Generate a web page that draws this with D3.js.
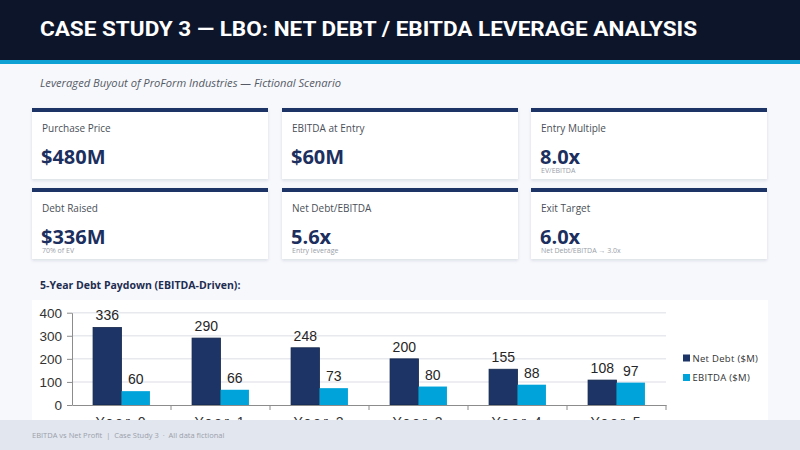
<!DOCTYPE html>
<html>
<head>
<meta charset="utf-8">
<script src="https://cdn.jsdelivr.net/npm/d3@7"></script>
<style>
  html, body { margin: 0; padding: 0; background: #f7f8fc; }
  svg { display: block; }
</style>
</head>
<body>
<div id="chart"></div>
<script>
// ---- data ----
var categories = [ "Year 0", "Year 1", "Year 2", "Year 3", "Year 4", "Year 5" ];
var netDebt = [ 336, 290, 248, 200, 155, 108 ];
var ebitda = [ 60, 66, 73, 80, 88, 97 ];
var seriesNames = [ "Net Debt ($M)", "EBITDA ($M)" ];
var yTicks = [ 0, 100, 200, 300, 400 ];

var cardLabels = [ "Purchase Price", "EBITDA at Entry", "Entry Multiple", "Debt Raised", "Net Debt/EBITDA", "Exit Target" ];
var cardValues = [ "$480M", "$60M", "8.0x", "$336M", "5.6x", "6.0x" ];
var cardNotes = [ "", "", "EV/EBITDA", "70% of EV", "Entry leverage", "Net Debt/EBITDA \u2192 3.0x" ];

var width = 800, height = 450;
var navy = "#1c3466", cyan = "#00a3da";

var svg = d3.select( "#chart" ).append( "svg" )
	.attr( "width", width )
	.attr( "height", height )
	.attr( "viewBox", [ 0, 0, width, height ] );

var defs = svg.append( "defs" );
var shadow = defs.append( "filter" ).attr( "id", "shadow" )
	.attr( "x", "-5%" ).attr( "y", "-5%" ).attr( "width", "110%" ).attr( "height", "120%" );
shadow.append( "feDropShadow" )
	.attr( "dx", 0 ).attr( "dy", 1.5 ).attr( "stdDeviation", 1.5 )
	.attr( "flood-color", "#1c2a4a" ).attr( "flood-opacity", 0.13 );

svg.append( "rect" ).attr( "width", width ).attr( "height", height ).attr( "fill", "#f7f8fc" );

// header
svg.append( "rect" ).attr( "width", width ).attr( "height", 60 ).attr( "fill", "#0d152b" );
svg.append( "rect" ).attr( "y", 60 ).attr( "width", width ).attr( "height", 4 ).attr( "fill", "#0ea1d3" );
svg.append( "text" )
	.attr( "x", 40 ).attr( "y", 35.5 )
	.attr( "fill", "#ffffff" )
	.style( "font-family", "Roboto, 'Liberation Sans', sans-serif" )
	.style( "font-weight", "700" )
	.style( "font-size", "21px" )
	.attr( "textLength", 657 )
	.attr( "lengthAdjust", "spacingAndGlyphs" )
	.text( "CASE STUDY 3 \u2014 LBO: NET DEBT / EBITDA LEVERAGE ANALYSIS" );

svg.append( "text" )
	.attr( "x", 40 ).attr( "y", 87 )
	.attr( "fill", "#555b66" )
	.style( "font-family", "'Open Sans', sans-serif" )
	.style( "font-style", "italic" )
	.style( "font-size", "11px" )
	.attr( "textLength", 301 )
	.attr( "lengthAdjust", "spacingAndGlyphs" )
	.text( "Leveraged Buyout of ProForm Industries \u2014 Fictional Scenario" );

// KPI cards
var cardX = [ 32, 282, 531 ], cardY = [ 108, 188 ], cardW = 236, cardH = 71;
var cards = svg.append( "g" ).selectAll( "g" )
	.data( cardLabels )
	.join( "g" )
	.attr( "transform", ( d, i ) => `translate(${ cardX[ i % 3 ] },${ cardY[ Math.floor( i / 3 ) ] })` );

cards.append( "rect" )
	.attr( "width", cardW ).attr( "height", cardH )
	.attr( "fill", "#ffffff" )
	.attr( "filter", "url(#shadow)" );
cards.append( "rect" )
	.attr( "width", cardW ).attr( "height", 4 )
	.attr( "fill", navy );
cards.append( "text" )
	.attr( "x", 10 ).attr( "y", 23.5 )
	.attr( "fill", "#4a4f58" )
	.style( "font-family", "'Open Sans', sans-serif" )
	.style( "font-size", "10px" )
	.text( d => d );
cards.append( "text" )
	.attr( "x", 9 ).attr( "y", 55.5 )
	.attr( "fill", "#1c2f5e" )
	.style( "font-family", "'Open Sans', sans-serif" )
	.style( "font-weight", "700" )
	.style( "font-size", "20px" )
	.text( ( d, i ) => cardValues[ i ] );
cards.append( "text" )
	.attr( "x", 10 ).attr( "y", 64.5 )
	.attr( "fill", "#9aa0a8" )
	.style( "font-family", "'Open Sans', sans-serif" )
	.style( "font-size", "7px" )
	.text( ( d, i ) => cardNotes[ i ] );

// chart section
svg.append( "text" )
	.attr( "x", 40 ).attr( "y", 289 )
	.attr( "fill", "#1e2d50" )
	.style( "font-family", "'Open Sans', sans-serif" )
	.style( "font-weight", "700" )
	.style( "font-size", "10.5px" )
	.text( "5-Year Debt Paydown (EBITDA-Driven):" );

svg.append( "rect" )
	.attr( "x", 32 ).attr( "y", 300 )
	.attr( "width", 736 ).attr( "height", 120 )
	.attr( "fill", "#ffffff" );

var xScale = d3.scaleBand()
	.domain( categories )
	.range( [ 72, 666 ] )
	.padding( 0 );

var xInner = d3.scaleBand()
	.domain( seriesNames )
	.range( [ 0, xScale.bandwidth() ] )
	.paddingInner( 0 )
	.paddingOuter( 0.74 );

var yScale = d3.scaleLinear()
	.domain( [ 0, 400 ] )
	.range( [ 405, 312.7 ] );

var colorChart = d3.scaleOrdinal()
	.domain( seriesNames )
	.range( [ navy, cyan ] );

var plot = svg.append( "g" );

// grid
plot.append( "g" )
	.selectAll( "line" )
	.data( yTicks.filter( t => t > 0 ) )
	.join( "line" )
	.attr( "x1", 72 ).attr( "x2", 666 )
	.attr( "y1", d => yScale( d ) ).attr( "y2", d => yScale( d ) )
	.attr( "stroke", "#e8e9ee" )
	.attr( "stroke-width", 1.5 );

var rows = categories.map( ( c, i ) => ( { name: c, values: [
	{ name: seriesNames[ 0 ], value: netDebt[ i ] },
	{ name: seriesNames[ 1 ], value: ebitda[ i ] }
] } ) );

var groups = plot.append( "g" )
	.selectAll( "g" )
	.data( rows )
	.join( "g" )
	.attr( "transform", d => `translate(${ xScale( d.name ) },0)` );

groups.selectAll( "rect" )
	.data( d => d.values )
	.join( "rect" )
	.attr( "x", d => xInner( d.name ) )
	.attr( "y", d => yScale( d.value ) )
	.attr( "width", xInner.bandwidth() )
	.attr( "height", d => yScale( 0 ) - yScale( d.value ) )
	.attr( "fill", d => colorChart( d.name ) )
	.attr( "stroke", ( d, i ) => i === 0 ? "#14264a" : "none" )
	.attr( "stroke-width", 0.8 );

groups.selectAll( "text" )
	.data( d => d.values )
	.join( "text" )
	.attr( "x", d => xInner( d.name ) + xInner.bandwidth() / 2 )
	.attr( "y", d => yScale( d.value ) - 7 )
	.attr( "text-anchor", "middle" )
	.attr( "fill", "#262626" )
	.style( "font-family", "'Liberation Sans', Arial, sans-serif" )
	.style( "font-size", "14px" )
	.text( d => d.value );

// y axis
var yAxis = plot.append( "g" )
	.attr( "transform", "translate(72,0)" )
	.call( d3.axisLeft( yScale ).tickValues( yTicks ).tickSize( 5 ).tickPadding( 5 ).tickSizeOuter( 0 ) );
yAxis.select( ".domain" ).attr( "stroke", "#8c8c8c" );
yAxis.selectAll( ".tick line" ).attr( "stroke", "#8c8c8c" );
yAxis.selectAll( ".tick text" )
	.attr( "fill", "#333333" )
	.style( "font-family", "'Liberation Sans', Arial, sans-serif" )
	.style( "font-size", "13.5px" );

// x axis
var xAxis = plot.append( "g" )
	.attr( "transform", "translate(0,405)" )
	.call( d3.axisBottom( xScale ).tickSize( 0 ).tickPadding( 12.5 ).tickSizeOuter( 0 ) );
xAxis.select( ".domain" ).attr( "stroke", "#8c8c8c" );
xAxis.selectAll( ".tick text" )
	.attr( "fill", "#333333" )
	.style( "font-family", "'Liberation Sans', Arial, sans-serif" )
	.style( "font-size", "14px" )
	.style( "letter-spacing", "2px" );
plot.append( "g" )
	.selectAll( "line" )
	.data( categories )
	.join( "line" )
	.attr( "x1", d => xScale( d ) + xScale.bandwidth() )
	.attr( "x2", d => xScale( d ) + xScale.bandwidth() )
	.attr( "y1", 405 ).attr( "y2", 410 )
	.attr( "stroke", "#8c8c8c" );

// legend
var legend = svg.append( "g" ).selectAll( "g" )
	.data( seriesNames )
	.join( "g" )
	.attr( "transform", ( d, i ) => `translate(683,${ 358 + i * 19.5 })` );
legend.append( "rect" )
	.attr( "y", -3.5 ).attr( "width", 7 ).attr( "height", 7 )
	.attr( "fill", d => colorChart( d ) );
legend.append( "text" )
	.attr( "x", 9.5 ).attr( "y", 3.8 )
	.attr( "fill", "#333333" )
	.style( "font-family", "'Open Sans', sans-serif" )
	.style( "font-size", "9.5px" )
	.style( "letter-spacing", "0.3px" )
	.text( d => d );

// footer (covers the axis labels like the reference)
svg.append( "rect" )
	.attr( "y", 420 ).attr( "width", width ).attr( "height", 30 )
	.attr( "fill", "#e2e6ef" );
svg.append( "text" )
	.attr( "x", 32 ).attr( "y", 438 )
	.attr( "fill", "#9aa0aa" )
	.style( "font-family", "'Open Sans', sans-serif" )
	.style( "font-size", "7.5px" )
	.attr( "xml:space", "preserve" )
	.text( "EBITDA vs Net Profit  |  Case Study 3  \u00b7  All data fictional" );
</script>
</body>
</html>
